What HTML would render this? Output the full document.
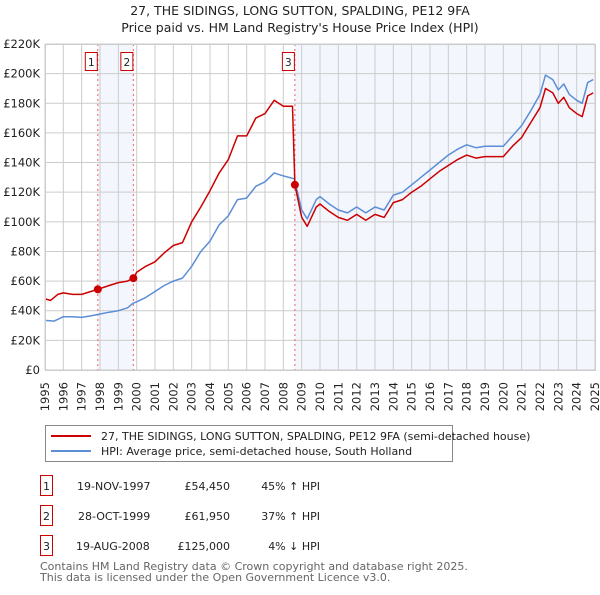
<!DOCTYPE html>
<html><head><meta charset="utf-8"><style>
body{margin:0;background:#fff;font-family:"Liberation Sans","DejaVu Sans",sans-serif;}
svg text{font-family:"DejaVu Sans","Liberation Sans",sans-serif;}
</style></head><body>
<svg width="600" height="590" viewBox="0 0 600 590">
<text x="300" y="15" text-anchor="middle" font-size="12.5" fill="#222">27, THE SIDINGS, LONG SUTTON, SPALDING, PE12 9FA</text>
<text x="300" y="32" text-anchor="middle" font-size="12.5" fill="#222">Price paid vs. HM Land Registry's House Price Index (HPI)</text>
<g id="plot"></g>
<g>
<rect x="45.5" y="425.5" width="407" height="36" fill="#fff" stroke="#888"/>
<line x1="51" y1="436" x2="91" y2="436" stroke="#cc0000" stroke-width="2"/>
<text x="101" y="440" font-size="11" fill="#222">27, THE SIDINGS, LONG SUTTON, SPALDING, PE12 9FA (semi-detached house)</text>
<line x1="51" y1="451" x2="91" y2="451" stroke="#5b8ed6" stroke-width="2"/>
<text x="101" y="455" font-size="11" fill="#222">HPI: Average price, semi-detached house, South Holland</text>
</g>
<g font-size="11" fill="#222">
<rect x="40.5" y="475.5" width="12" height="20" fill="#fff" stroke="#cc0000"/><text x="46.5" y="490" text-anchor="middle">1</text>
<text x="77" y="490">19-NOV-1997</text><text x="230" y="490" text-anchor="end">£54,450</text><text x="320" y="490" text-anchor="end">45% ↑ HPI</text>
<rect x="40.5" y="505.5" width="12" height="20" fill="#fff" stroke="#cc0000"/><text x="46.5" y="520" text-anchor="middle">2</text>
<text x="78" y="520">28-OCT-1999</text><text x="230" y="520" text-anchor="end">£61,950</text><text x="320" y="520" text-anchor="end">37% ↑ HPI</text>
<rect x="40.5" y="535.5" width="12" height="20" fill="#fff" stroke="#cc0000"/><text x="46.5" y="550" text-anchor="middle">3</text>
<text x="76" y="550">19-AUG-2008</text><text x="230" y="550" text-anchor="end">£125,000</text><text x="320" y="550" text-anchor="end">4% ↓ HPI</text>
</g>
<text x="40" y="570" font-size="11" fill="#666">Contains HM Land Registry data © Crown copyright and database right 2025.</text>
<text x="40" y="581" font-size="11" fill="#666">This data is licensed under the Open Government Licence v3.0.</text>
</svg>
<script>
const yTicks=[0,20,40,60,80,100,120,140,160,180,200,220];
const xYears=[1995,1996,1997,1998,1999,2000,2001,2002,2003,2004,2005,2006,2007,2008,2009,2010,2011,2012,2013,2014,2015,2016,2017,2018,2019,2020,2021,2022,2023,2024,2025];
const hpiT=[1995,1995.5,1996,1996.5,1997,1997.5,1997.9,1998.5,1999,1999.5,1999.8,2000,2000.5,2001,2001.5,2002,2002.5,2003,2003.5,2004,2004.5,2005,2005.5,2006,2006.5,2007,2007.5,2008,2008.6,2009,2009.3,2009.8,2010,2010.5,2011,2011.5,2012,2012.5,2013,2013.5,2014,2014.5,2015,2015.5,2016,2016.5,2017,2017.5,2018,2018.5,2019,2019.5,2020,2020.5,2021,2021.5,2022,2022.3,2022.7,2023,2023.3,2023.6,2024,2024.3,2024.6,2024.9];
const hpiV=[33.5,33,36,36,35.5,36.5,37.5,39,40,42,45,46,49,53,57,60,62,70,80,87,98,104,115,116,124,127,133,131,129,108,102,115,117,112,108,106,110,106,110,108,118,120,125,130,135,140,145,149,152,150,151,151,151,158,165,175,186,199,196,189,193,186,182,180,194,196];
const ppT=[1995,1995.3,1995.7,1996,1996.5,1997,1997.5,1997.88,1998.5,1999,1999.5,1999.82,2000,2000.5,2001,2001.5,2002,2002.5,2003,2003.5,2004,2004.5,2005,2005.5,2006,2006.5,2007,2007.5,2008,2008.5,2008.63,2009,2009.3,2009.8,2010,2010.5,2011,2011.5,2012,2012.5,2013,2013.5,2014,2014.5,2015,2015.5,2016,2016.5,2017,2017.5,2018,2018.5,2019,2019.5,2020,2020.5,2021,2021.5,2022,2022.3,2022.7,2023,2023.3,2023.6,2024,2024.3,2024.6,2024.9];
const ppV=[48,47,51,52,51,51,53,54.45,57,59,60,61.95,66,70,73,79,84,86,100,110,121,133,142,158,158,170,173,182,178,178,125,103,97,110,112,107,103,101,105,101,105,103,113,115,120,124,129,134,138,142,145,143,144,144,144,151,157,167,177,190,187,180,184,177,173,171,185,187];
const sales=[[1997.88,54.45,'1'],[1999.82,61.95,'2'],[2008.63,125,'3']];
const NS='http://www.w3.org/2000/svg';
const L=45,R=595,T=44,B=370;
const X=t=>L+(t-1995)/30*(R-L);
const Y=v=>B-v/220*(B-T);
const g=document.getElementById('plot');
function mk(tag,a,p){const e=document.createElementNS(NS,tag);for(const k in a)e.setAttribute(k,a[k]);(p||g).appendChild(e);return e;}
const sh1=mk('rect',{x:X(sales[0][0]),y:T,width:X(sales[1][0])-X(sales[0][0]),height:B-T,fill:'#f3f6fd'});


const sh2=mk('rect',{x:X(sales[2][0]),y:T,width:R-X(sales[2][0]),height:B-T,fill:'#f3f6fd'});


yTicks.forEach(v=>{
 const l=mk('line',{x1:L,x2:R,y1:Y(v),y2:Y(v),stroke:'#ccc','stroke-width':1});
 
 
 const t=mk('text',{x:L-5,y:Y(v)+4,'text-anchor':'end','font-size':11.5,fill:'#222'});
 t.textContent=v===0?'£0':'£'+v+'K';
 
 
});
xYears.forEach(y=>{
 const l=mk('line',{x1:X(y),x2:X(y),y1:T,y2:B,stroke:'#ccc','stroke-width':1});
 
 
 const tx=X(y)+4,ty=382;
 const t=mk('text',{x:tx,y:ty,'text-anchor':'end','font-size':11.5,fill:'#222',transform:'rotate(-90 '+tx+' '+ty+')'});
 t.textContent=y;
 
 
});
sales.forEach(s=>{
 const l=mk('line',{x1:X(s[0]),x2:X(s[0]),y1:T,y2:B,stroke:'#f06060','stroke-dasharray':'2,3'});
 
 
});
function path(ts,vs,col,name){
 let d='';ts.forEach((t,i)=>{d+=(i?'L':'M')+X(t).toFixed(1)+','+Y(vs[i]).toFixed(1);});
 const p=mk('path',{d:d,fill:'none',stroke:col,'stroke-width':1.5,'stroke-linejoin':'round'});
 
 
}
path(hpiT,hpiV,'#5b8ed6','hpi-line');
path(ppT,ppV,'#cc0000','price-paid-line');
sales.forEach(s=>{
 const c=mk('circle',{cx:X(s[0]),cy:Y(s[1]),r:4,fill:'#cc0000'});
 
 
 const bx=X(s[0])-13;
 const r=mk('rect',{x:bx+0.5,y:52.5,width:12,height:18,fill:'#fff',stroke:'#cc0000'});
 
 
 const t=mk('text',{x:bx+6.5,y:66,'text-anchor':'middle','font-size':10.5,fill:'#222'});
 t.textContent=s[2];
 
 
});
const fr=mk('rect',{x:L+0.5,y:T+0.5,width:R-L,height:B-T,fill:'none',stroke:'#ccc'});


</script>
</body></html>
